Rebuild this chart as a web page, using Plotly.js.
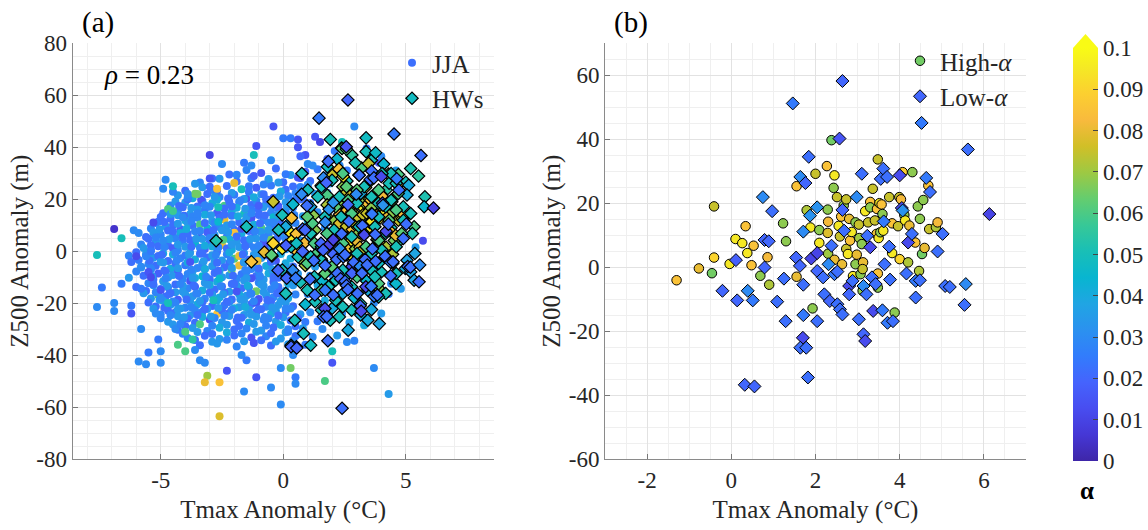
<!DOCTYPE html>
<html><head><meta charset="utf-8">
<script src="https://cdn.plot.ly/plotly-3.0.1.min.js"></script>
<style>html,body{margin:0;padding:0;background:#fff}#chart{width:1148px;height:530px}</style>
</head><body><div id="chart"></div>
<script>
// ---------------- DATA ----------------
// Panel (a): JJA days, core of the cloud (rows)
const coreX = [
 -2.2,-1.5,-0.9,-0.3,0.3,0.9,1.4,
 -3.4,-2.6,-1.9,-1.3,-0.6,0.0,0.6,1.1,
 -4.0,-3.3,-2.9,-2.3,-1.7,-1.1,-0.5,0.1,0.7,
 -4.3,-3.7,-3.1,-2.6,-2.0,-1.5,-0.9,-0.4,0.2,0.8,
 -4.6,-4.0,-3.5,-2.9,-2.4,-1.8,-1.3,-0.7,-0.2,0.4,
 -4.9,-4.3,-3.8,-3.2,-2.7,-2.1,-1.6,-1.0,-0.5,0.1,
 -5.1,-4.6,-4.0,-3.5,-2.9,-2.4,-1.8,-1.3,-0.8,-0.2,0.4,
 -5.4,-4.8,-4.2,-3.7,-3.1,-2.6,-2.0,-1.5,-0.9,-0.4,0.2,
 -5.6,-5.0,-4.5,-3.9,-3.4,-2.8,-2.3,-1.7,-1.2,-0.6,-0.1,0.5,
 -5.8,-5.2,-4.7,-4.1,-3.6,-3.0,-2.5,-1.9,-1.4,-0.8,-0.3,0.3,
 -6.0,-5.4,-4.9,-4.3,-3.8,-3.2,-2.7,-2.1,-1.6,-1.0,-0.5,0.1,
 -5.9,-5.3,-4.7,-4.2,-3.6,-3.1,-2.5,-2.0,-1.4,-0.9,-0.3,0.3,
 -5.8,-5.2,-4.6,-4.0,-3.5,-2.9,-2.4,-1.8,-1.3,-0.7,-0.2,0.4,
 -5.7,-5.1,-4.5,-3.9,-3.3,-2.8,-2.2,-1.7,-1.1,-0.6,0.0,0.6,
 -5.5,-4.9,-4.4,-3.8,-3.2,-2.7,-2.1,-1.6,-1.0,-0.4,0.2,
 -5.6,-5.0,-4.4,-3.9,-3.3,-2.8,-2.2,-1.7,-1.1,-0.5,0.1,
 -5.4,-4.8,-4.3,-3.7,-3.2,-2.6,-2.1,-1.5,-1.0,-0.4,0.2,
 -5.2,-4.6,-4.0,-3.5,-2.9,-2.4,-1.8,-1.3,-0.7,-0.2,0.4,
 -5.0,-4.4,-3.8,-3.3,-2.7,-2.2,-1.6,-1.1,-0.5,0.1,0.7,
 -4.7,-4.1,-3.6,-3.0,-2.5,-1.9,-1.4,-0.8,-0.3,0.3,0.9,
 -4.3,-3.7,-3.1,-2.6,-2.0,-1.5,-0.9,-0.4,0.2,0.8,
 -3.9,-3.2,-2.6,-2.0,-1.3,-0.7,-0.1,0.5,
 -3.4,-2.7,-1.9,-1.2,-0.5,0.2
];
const coreY = [
 29.5,31.2,30.1,31.8,29.3,30.6,31.5,
 26.4,27.9,26.8,28.1,27.2,26.5,28.3,27.0,
 23.2,24.6,23.5,25.1,23.8,24.4,25.3,23.6,24.7,
 21.5,20.4,22.0,20.8,21.7,20.2,21.9,20.6,21.2,20.5,
 17.6,18.7,17.2,18.4,17.5,18.9,17.8,18.2,17.3,18.6,
 14.6,15.5,14.2,15.8,14.8,15.2,14.4,15.9,14.9,15.3,
 11.3,12.5,11.8,12.9,11.5,12.2,11.1,12.7,11.9,12.4,11.4,
 8.7,9.6,8.4,9.9,8.8,9.3,8.2,9.7,8.9,9.4,8.5,
 5.4,6.3,5.8,6.7,5.2,6.1,5.6,6.8,5.3,6.4,5.9,6.2,
 2.6,3.5,2.2,3.8,2.9,3.2,2.4,3.6,2.8,3.3,2.5,3.7,
 -0.4,0.6,-0.9,0.3,-0.6,0.8,-0.2,0.5,-0.8,0.2,-0.5,0.7,
 -3.4,-2.5,-3.8,-2.7,-3.2,-2.4,-3.6,-2.9,-3.3,-2.6,-3.7,-2.8,
 -6.3,-5.6,-6.8,-5.4,-6.5,-5.8,-6.2,-5.5,-6.9,-5.7,-6.4,-5.9,
 -9.5,-8.6,-9.2,-8.8,-9.7,-8.4,-9.3,-8.9,-9.6,-8.5,-9.1,-8.7,
 -12.4,-11.6,-12.8,-11.5,-12.2,-11.8,-12.6,-11.3,-12.1,-11.9,-12.5,
 -15.3,-14.6,-15.8,-14.4,-15.1,-14.8,-15.6,-14.3,-15.4,-14.7,-15.2,
 -18.2,-17.5,-18.7,-17.4,-18.3,-17.8,-18.6,-17.2,-18.4,-17.7,-18.1,
 -21.3,-20.6,-21.8,-20.4,-21.1,-20.8,-21.6,-20.3,-21.4,-20.7,-21.2,
 -24.4,-23.5,-24.7,-23.3,-24.2,-23.8,-24.6,-23.4,-24.1,-23.6,-24.3,
 -27.2,-26.5,-27.6,-26.3,-27.4,-26.8,-27.5,-26.4,-27.1,-26.7,-27.3,
 -30.3,-29.6,-30.7,-29.5,-30.2,-29.8,-30.5,-29.4,-30.1,-29.7,
 -33.4,-32.6,-33.8,-32.5,-33.2,-32.8,-33.6,-32.7,
 -36.2,-35.5,-36.7,-35.4,-36.3,-35.8
];
const coreA = [
 .022,.028,.015,.022,.034,.018,.025,
 .028,.034,.022,.025,.04,.022,.015,.022,
 .022,.034,.028,.022,.05,.018,.025,.022,.028,
 .034,.04,.022,.028,.025,.015,.034,.022,.028,.022,
 .028,.034,.022,.04,.06,.025,.022,.028,.015,.034,
 .022,.028,.034,.025,.018,.04,.05,.022,.028,.025,
 .025,.022,.04,.028,.034,.08,.022,.015,.028,.034,.022,
 .028,.034,.018,.022,.045,.028,.022,.034,.06,.025,.022,
 .022,.028,.04,.022,.015,.034,.025,.04,.022,.028,.034,.022,
 .028,.034,.022,.025,.045,.022,.08,.034,.028,.015,.022,.04,
 .022,.025,.04,.028,.034,.018,.022,.04,.034,.028,.022,.034,
 .025,.034,.022,.028,.04,.022,.034,.06,.022,.034,.015,.04,
 .034,.022,.04,.025,.028,.034,.022,.08,.028,.04,.034,.022,
 .022,.018,.034,.028,.045,.022,.034,.025,.022,.04,.028,.034,
 .028,.034,.022,.015,.034,.04,.022,.034,.028,.022,.04,
 .022,.025,.034,.028,.04,.022,.034,.022,.065,.028,.034,
 .034,.022,.018,.034,.028,.04,.022,.034,.015,.028,.04,
 .022,.034,.028,.04,.022,.025,.034,.022,.028,.034,.022,
 .028,.022,.034,.025,.085,.022,.034,.018,.04,.022,.034,
 .034,.028,.022,.015,.034,.022,.04,.028,.034,.022,.025,
 .022,.034,.028,.04,.022,.028,.034,.022,.028,.034,
 .028,.022,.034,.022,.015,.028,.034,.022,
 .022,.034,.028,.015,.022,.034
];
// Panel (a): JJA days, in-between rows
const fillX = [
 -2.9,-1.9,-1.2,-0.6,0.1,0.7,
 -3.6,-3.0,-2.0,-1.4,-0.8,-0.2,0.4,1.0,
 -4.5,-3.6,-2.7,-2.1,-1.4,-0.8,-0.1,0.5,
 -4.4,-3.9,-3.3,-2.7,-2.2,-1.6,-1.1,-0.5,0.1,0.7,
 -4.7,-4.1,-3.5,-3.0,-2.4,-1.9,-1.3,-0.8,-0.2,0.4,
 -5.0,-4.3,-3.7,-3.2,-2.6,-2.1,-1.5,-1.0,-0.4,0.2,0.8,
 -5.2,-4.5,-3.9,-3.4,-2.8,-2.3,-1.7,-1.2,-0.6,-0.1,0.5,
 -5.3,-4.7,-4.2,-3.6,-3.1,-2.5,-2.0,-1.4,-0.9,-0.3,0.3,
 -5.5,-4.9,-4.4,-3.8,-3.3,-2.7,-2.2,-1.6,-1.1,-0.5,0.1,0.7,
 -5.7,-5.1,-4.5,-4.0,-3.4,-2.9,-2.3,-1.8,-1.2,-0.7,-0.1,0.5,
 -6.3,-5.6,-5.1,-4.5,-4.0,-3.4,-2.9,-2.3,-1.8,-1.2,-0.7,-0.1,0.5,
 -6.2,-5.5,-5.0,-4.4,-3.9,-3.3,-2.8,-2.2,-1.6,-1.1,-0.5,0.1,
 -6.0,-5.4,-4.8,-4.3,-3.7,-3.2,-2.6,-2.1,-1.5,-1.0,-0.4,0.2,
 -6.3,-5.3,-4.7,-4.1,-3.6,-3.0,-2.5,-1.9,-1.3,-0.8,-0.2,0.4,
 -6.0,-5.3,-4.7,-4.1,-3.6,-3.0,-2.5,-1.9,-1.4,-0.8,-0.2,0.4,
 -5.7,-5.1,-4.6,-4.0,-3.5,-2.9,-2.4,-1.8,-1.3,-0.7,-0.1,0.5,
 -5.5,-4.9,-4.4,-3.8,-3.3,-2.7,-2.2,-1.6,-1.1,-0.5,0.1,
 -5.3,-4.7,-4.2,-3.6,-3.1,-2.5,-2.0,-1.4,-0.9,-0.3,0.3,
 -5.0,-4.3,-3.9,-3.3,-2.8,-2.2,-1.7,-1.1,-0.6,0.0,0.6,
 -4.5,-4.0,-3.4,-2.9,-2.3,-1.8,-1.2,-0.7,-0.1,0.5,
 -4.1,-3.5,-2.9,-2.3,-1.7,-1.1,-0.5,0.1,0.7,
 -3.6,-2.9,-2.3,-1.6,-0.9,-0.3,0.4
];
const fillY = [
 28.0,29.4,28.9,27.8,29.6,28.2,
 25.9,24.8,26.2,25.0,25.7,26.4,24.9,25.6,
 22.9,22.1,23.2,22.4,22.8,21.9,23.0,22.3,
 19.1,20.0,19.3,19.8,18.9,20.1,19.4,19.7,18.8,19.9,
 16.2,16.9,16.0,17.1,16.4,16.7,15.9,17.0,16.3,16.8,
 13.1,13.8,13.3,14.0,12.9,13.6,13.2,13.9,13.0,13.7,13.4,
 10.8,10.1,10.9,10.3,10.7,9.9,10.6,10.2,11.0,10.4,10.8,
 7.2,7.9,7.0,7.7,7.3,8.0,7.1,7.8,7.4,7.6,7.2,
 4.8,4.1,4.9,4.3,4.7,4.0,4.6,4.2,4.9,4.4,4.7,4.1,
 1.2,1.9,1.1,1.7,1.3,1.8,1.0,1.6,1.4,1.9,1.2,1.7,
 -1.8,-1.1,-1.9,-1.3,-1.7,-1.0,-1.6,-1.2,-1.9,-1.4,-1.7,-1.1,-1.5,
 -4.2,-4.9,-4.1,-4.7,-4.3,-4.8,-4.0,-4.6,-4.4,-4.9,-4.2,-4.7,
 -7.8,-7.1,-7.9,-7.3,-7.7,-7.0,-7.6,-7.2,-7.9,-7.4,-7.8,-7.1,
 -10.2,-10.9,-10.1,-10.7,-10.3,-10.8,-10.0,-10.6,-10.4,-10.9,-10.2,-10.7,
 -13.8,-13.1,-13.9,-13.3,-13.7,-13.0,-13.6,-13.2,-13.9,-13.4,-13.8,-13.1,
 -16.2,-16.9,-16.1,-16.7,-16.3,-16.8,-16.0,-16.6,-16.4,-16.9,-16.2,-16.7,
 -19.8,-19.1,-19.9,-19.3,-19.7,-19.0,-19.6,-19.2,-19.9,-19.4,-19.8,
 -22.2,-22.9,-22.1,-22.7,-22.3,-22.8,-22.0,-22.6,-22.4,-22.9,-22.2,
 -25.8,-25.1,-25.9,-25.3,-25.7,-25.0,-25.6,-25.2,-25.9,-25.4,-25.8,
 -28.2,-28.9,-28.1,-28.7,-28.3,-28.8,-28.0,-28.6,-28.4,-28.9,
 -31.8,-31.1,-31.9,-31.3,-31.7,-31.0,-31.6,-31.2,-31.9,
 -34.2,-34.9,-34.1,-34.7,-34.3,-34.8,-34.4
];
const fillA = [
 .022,.028,.018,.034,.025,.015,
 .034,.022,.08,.025,.028,.034,.022,.028,
 .028,.065,.022,.034,.025,.022,.04,.028,
 .034,.022,.025,.04,.022,.034,.028,.015,.034,.022,
 .06,.022,.034,.028,.022,.04,.025,.034,.018,.028,
 .022,.034,.028,.04,.022,.025,.034,.022,.045,.028,.034,
 .025,.022,.034,.06,.028,.034,.022,.04,.028,.022,.028,
 .034,.022,.04,.028,.018,.034,.085,.022,.034,.028,.04,
 .022,.034,.028,.022,.034,.025,.04,.022,.034,.065,.028,.034,
 .034,.022,.018,.034,.028,.04,.022,.034,.028,.015,.04,.022,
 .028,.034,.022,.04,.025,.022,.034,.028,.08,.034,.022,.04,.034,
 .022,.028,.034,.022,.04,.028,.034,.022,.015,.034,.028,.04,
 .028,.034,.022,.018,.034,.022,.04,.065,.028,.034,.022,.034,
 .034,.022,.034,.028,.04,.022,.034,.028,.015,.034,.022,.04,
 .022,.034,.028,.034,.018,.04,.022,.034,.028,.034,.022,.034,
 .034,.06,.022,.034,.028,.034,.022,.04,.028,.034,.022,.028,
 .022,.034,.028,.034,.022,.04,.028,.034,.015,.022,.034,
 .034,.022,.034,.028,.034,.022,.04,.034,.022,.034,.028,
 .028,.034,.022,.04,.028,.034,.022,.034,.028,.034,.022,
 .034,.022,.06,.028,.034,.022,.034,.028,.04,.022,
 .028,.034,.022,.04,.028,.034,.022,.034,.028,
 .022,.034,.028,.034,.022,.034,.028
];
// Panel (a): JJA days, densest part of the cloud
const denseX = [
 -3.9,-3.35,-2.8,-2.25,-1.75,-1.2,-0.7,-0.15,0.45,
 -4.25,-3.75,-3.2,-2.65,-2.1,-1.55,-1.0,-0.45,0.15,
 -4.6,-4.05,-3.5,-2.95,-2.4,-1.85,-1.3,-0.75,-0.2,0.45,
 -4.85,-4.3,-3.75,-3.2,-2.65,-2.1,-1.55,-0.95,-0.4,0.2,
 -5.05,-4.5,-3.95,-3.4,-2.85,-2.25,-1.7,-1.15,-0.6,0.0,
 -5.2,-4.65,-4.1,-3.55,-3.0,-2.45,-1.9,-1.35,-0.8,-0.25,
 -5.4,-4.85,-4.3,-3.75,-3.2,-2.65,-2.1,-1.55,-1.0,-0.45,
 -5.5,-4.95,-4.4,-3.85,-3.3,-2.75,-2.2,-1.65,-1.1,-0.55,
 -5.45,-4.9,-4.35,-3.8,-3.25,-2.7,-2.15,-1.6,-1.05,-0.5,
 -5.4,-4.85,-4.3,-3.75,-3.2,-2.65,-2.1,-1.55,-1.0,-0.45,
 -5.35,-4.8,-4.25,-3.7,-3.15,-2.6,-2.05,-1.5,-0.95,-0.4,
 -5.3,-4.75,-4.2,-3.65,-3.1,-2.55,-2.0,-1.45,-0.9,-0.35,
 -5.2,-4.65,-4.1,-3.55,-3.0,-2.45,-1.9,-1.35,-0.8,-0.25,
 -5.05,-4.5,-3.95,-3.4,-2.85,-2.3,-1.75,-1.2,-0.65,-0.1,
 -4.85,-4.3,-3.75,-3.2,-2.65,-2.1,-1.55,-1.0,-0.45,0.1,
 -4.6,-4.05,-3.5,-2.95,-2.4,-1.85,-1.3,-0.75,-0.2
];
const denseY = [
 20.6,19.8,20.9,20.3,19.5,20.7,20.0,21.1,19.6,
 17.4,16.6,17.7,16.9,17.2,16.3,17.5,16.8,17.1,
 14.3,13.6,14.5,13.8,14.1,13.4,14.6,13.7,14.2,13.9,
 11.2,10.5,11.6,10.8,11.3,10.4,11.5,10.7,11.1,10.6,
 8.3,7.6,8.5,7.8,8.1,7.4,8.6,7.7,8.2,7.9,
 5.3,4.6,5.5,4.8,5.1,4.4,5.6,4.7,5.2,4.9,
 2.3,1.5,2.5,1.7,2.1,1.4,2.6,1.8,2.2,1.6,
 -0.7,-1.4,-0.6,-1.2,-0.9,-1.5,-0.5,-1.3,-0.8,-1.1,
 -3.7,-4.4,-3.6,-4.2,-3.9,-4.5,-3.5,-4.3,-3.8,-4.1,
 -6.7,-7.4,-6.6,-7.2,-6.9,-7.5,-6.5,-7.3,-6.8,-7.1,
 -9.8,-10.5,-9.6,-10.3,-9.9,-10.6,-9.5,-10.4,-9.7,-10.2,
 -12.7,-13.4,-12.6,-13.2,-12.9,-13.5,-12.5,-13.3,-12.8,-13.1,
 -15.8,-16.5,-15.6,-16.3,-15.9,-16.6,-15.5,-16.4,-15.7,-16.2,
 -18.7,-19.4,-18.6,-19.2,-18.9,-19.5,-18.5,-19.3,-18.8,-19.1,
 -21.8,-22.5,-21.6,-22.3,-21.9,-22.6,-21.5,-22.4,-21.7,-22.2,
 -24.7,-25.4,-24.6,-25.2,-24.9,-25.5,-24.5,-25.3,-24.8
];
const denseA = [
 .028,.015,.034,.022,.028,.04,.022,.034,.025,
 .022,.034,.028,.05,.022,.034,.018,.028,.034,
 .034,.022,.028,.034,.022,.04,.028,.022,.034,.028,
 .022,.034,.028,.022,.045,.028,.034,.022,.028,.04,
 .034,.022,.04,.028,.022,.034,.015,.028,.034,.022,
 .028,.034,.022,.034,.028,.06,.022,.034,.028,.022,
 .022,.028,.034,.022,.04,.028,.034,.022,.028,.034,
 .034,.022,.028,.034,.022,.028,.04,.022,.034,.028,
 .022,.034,.028,.015,.034,.022,.028,.034,.08,.022,
 .028,.022,.034,.028,.04,.022,.034,.028,.022,.034,
 .034,.028,.022,.034,.028,.045,.022,.034,.028,.022,
 .022,.034,.028,.022,.034,.028,.022,.04,.034,.028,
 .028,.022,.034,.028,.022,.034,.015,.028,.034,.022,
 .034,.028,.022,.034,.05,.022,.034,.028,.022,.034,
 .022,.034,.028,.022,.034,.028,.04,.022,.034,.028,
 .028,.034,.022,.034,.028,.022,.034,.028,.022
];
// Panel (a): JJA days, outlying points
const outX = [-7.6,-7.4,-7.6,-6.9,-6.9,-6.9,-6.6,-6.6,-6.2,-6.2,
 -6.1,-6.0,-5.9,-5.8,-5.8,-5.8,-5.9,-5.6,-5.5,-5.6,
 -5.5,-5.4,-5.4,-5.3,-5.2,-5.1,-5.0,-5.0,-5.0,-5.0,
 -4.9,-4.9,-4.8,-4.7,-4.5,-4.5,-4.4,-4.3,-4.2,-4.1,
 -4.0,-4.0,-3.9,-3.7,-3.6,-3.5,-3.4,-3.2,-3.1,-3.2,
 -2.6,-2.6,-2.3,-3.0,-3.0,-2.5,-2.7,-1.7,-1.5,-1.6,
 -1.1,-0.5,-0.1,-0.1,0.5,0.5,0.3,0.4,0.2,1.7,
 2.0,2.0,3.7,4.3,2.9,4.3,5.7,2.9,-0.4,0.0,
 0.3,0.6,0.6,1.3,1.5,-1.1,-1.2,-1.3,-1.6,-0.5,
 0.9,1.2,3.6,3.9,2.4];
const outY = [-1.5,-14,-21.5,-20,-23,8.5,5,-12.5,-21,-24,
 8,-2,7,-6,-14.5,-30,-42.5,-43.5,-39,-2,
 -8,-10,0,11,-24,-34,-38.5,-43,-15,-18,
 4,24,27.5,-20,25,15.5,-30,-36,-28,13,
 -38.5,-31,22,-34,-38,22,-42,-43,-48,-50.5,
 -50.5,-63.5,-46,28,37,33.5,24,-40,-42,-54,
 -48.5,-52.5,-45,-59,-48.5,-51,-45,-40,-31,-50,
 -43,-38.5,-45,-55,-34.5,-16.5,4,48,48,43.5,
 43.5,40,43,44,42,40.5,37,33,34,35,
 37,33,37,34,42];
const outA = [.05,.025,.03,.03,.03,.005,.05,.025,.025,.015,
 .03,.012,.03,.03,.025,.03,.03,.03,.025,.028,
 .015,.012,.025,.012,.03,.025,.03,.03,.015,.03,
 .03,.03,.03,.05,.05,.058,.03,.06,.028,.03,
 .06,.06,.03,.055,.03,.065,.03,.03,.07,.08,
 .085,.078,.015,.015,.01,.03,.085,.03,.025,.03,
 .015,.03,.03,.03,.025,.03,.065,.03,.028,.06,
 .015,.05,.03,.035,.028,.025,.012,.03,.015,.025,
 .025,.015,.015,.015,.01,.015,.05,.03,.025,.03,
 .015,.03,.03,.015,.05];
// Panel (a): JJA days lying among the heatwave days
const midX = [1.0,1.3,1.1,1.4,1.0,1.3,1.1,1.4,1.0,1.3,1.1,1.4,1.0,1.3,1.1,1.4,
 1.7,1.9,1.8,2.0,1.7,1.9,1.8,2.0,1.7,1.9,1.8,
 2.3,2.6,2.4,2.7,3.1,3.3,3.7,4.0,4.4,4.8,5.1,5.4,3.0,3.4,4.0,4.6,1.8,2.1,1.0,0.7,1.6,2.2,2.6,1.2,0.9];
const midY = [25.5,22,18.5,15,11.5,8,4.5,1,-2.5,-6,-9.5,-13,-16.5,-20,-23.5,-27,
 29,26,22.5,19,9,5.5,-5,-9,-19,-23,-26.5,
 33,31,-24,-27.5,-24.5,-28.5,-20,-24,-12.5,-14.5,-3,1.5,33,39.5,36.5,31,35.5,38.5,33.5,36.5,-30,-32.5,-35,-33,-36];
const midA = [.03,.035,.025,.03,.04,.03,.035,.03,.025,.035,.03,.04,.03,.035,.03,.025,
 .03,.035,.03,.04,.03,.025,.035,.03,.04,.03,.035,
 .03,.025,.03,.035,.03,.04,.03,.035,.03,.035,.03,.035,.03,.025,.03,.035,.02,.025,.03,.02,.03,.035,.03,.03,.025];

// Panel (a): heatwave days that are neither high- nor low-alpha (first group)
const hwMidX = [0.76,1.92,2.40,2.58,2.94,3.38,3.38,3.77,5.20,5.52,
 5.78,5.75,5.12,5.05,4.90,5.20,5.34,5.27,5.37,5.05,
 4.98,5.20,5.34,4.61,4.47,4.18,4.32,4.61,4.40,4.69,
 4.32,3.89,3.89,3.60,3.74,3.89,3.60,3.89,3.60,3.89,
 3.45,3.16,3.16,3.45,3.92,2.79,2.65,2.43,2.14,1.56,
 1.70,1.56,1.27,1.12,1.19,0.98,1.12,1.41,1.56,1.99,
 2.43,2.58,2.29,2.65,2.14,2.36,2.79,3.01,3.16,3.30,
 3.09,3.30,2.79,2.43,2.21,1.99,2.43,2.87,3.01,2.79,
 2.43,1.85,1.27,0.98,0.61,0.32,0.54,0.10,-0.04,-0.04,
 0.17,0.10,0.47,1.12,0.32,0.54,0.98,-0.48,-0.19,-1.50,
 -2.74,0.83,4.40,4.61,4.03,3.09,3.01,3.60,4.18,3.89,
 4.03,4.18,4.61,4.83,4.90,3.74,4.18,3.89,3.01,3.38,
 3.23,2.07,1.70,1.78,1.56,1.12,2.14,1.56,1.92,2.29,
 2.40];
const hwMidY = [29.9,43.0,39.5,39.2,34.0,43.6,38.3,37.9,31.8,28.9,
 20.9,17.1,25.4,21.6,17.1,14.5,9.4,6.8,-0.9,-3.5,
 -6.7,-8.0,-11.2,-8.6,-4.7,6.8,11.9,15.8,19.6,22.2,
 26.1,23.5,18.4,14.5,9.4,4.2,-0.9,-4.7,-7.3,-12.5,
 -15.0,-20.2,-24.6,-26.6,-27.9,-22.7,-30.4,-21.4,-18.9,-15.0,
 -8.6,-3.5,3.0,6.8,10.7,13.2,17.1,20.9,24.8,27.3,
 29.9,24.8,20.9,19.6,17.1,13.2,14.5,18.4,22.2,24.8,
 9.4,6.8,5.5,3.0,-0.9,-6.0,-7.3,-4.7,-9.9,-13.7,
 -16.3,-13.7,-9.9,-4.7,-2.2,1.7,3.0,9.4,13.9,-7.3,
 -9.9,-16.3,-26.6,-36.2,-36.2,-36.8,-15.0,-1.5,8.1,9.4,
 4.0,-31.7,29.9,26.1,29.9,29.3,23.5,20.9,17.1,13.2,
 0.4,-2.2,1.7,6.8,11.9,-9.9,-16.3,-17.6,-0.9,1.7,
 -6.0,8.1,13.2,6.8,1.7,-2.2,-11.2,-22.7,-26.6,-25.3,
 -60.5];
const hwMidA = [.05,.05,.062,.06,.05,.048,.05,.047,.052,.055,
 .052,.045,.04,.04,.05,.05,.06,.052,.038,.038,
 .04,.038,.038,.05,.048,.05,.062,.06,.05,.06,
 .05,.06,.05,.062,.05,.06,.05,.048,.05,.06,
 .04,.05,.04,.04,.038,.05,.04,.05,.05,.06,
 .062,.05,.06,.05,.06,.062,.04,.05,.05,.05,
 .06,.062,.05,.06,.062,.05,.06,.05,.04,.05,
 .05,.06,.05,.06,.05,.062,.05,.05,.06,.05,
 .04,.05,.05,.06,.05,.05,.048,.04,.05,.05,
 .048,.05,.05,.048,.05,.045,.05,.062,.05,.05,
 .052,.05,.05,.05,.05,.048,.062,.05,.05,.05,
 .05,.06,.05,.062,.05,.05,.05,.05,.05,.06,
 .05,.05,.05,.06,.05,.05,.05,.05,.05,.05,
 .022];
// Panel (a): heatwave days that are neither high- nor low-alpha (second group)
const hwMid2X = [1.8,2.2,2.8,3.2,3.6,4.1,4.7,5.0,4.2,3.5,
 2.6,1.8,2.4,2.9,3.5,4.4,4.7,4.3,3.3,2.6,
 1.9,1.3,1.6,2.5,3.4,4.0,4.6,2.0,2.9,3.6,
 1.3,0.7,0.9,1.0,0.4];
const hwMid2Y = [32.5,35.5,37.0,32.0,35.0,33.5,29.5,26.5,23.5,26.5,
 27.0,21.5,16.5,11.5,12.0,9.0,3.5,-1.0,-2.5,-1.5,
 2.5,-1.5,-11.5,-10.0,-11.5,-8.0,-12.5,-22.0,-18.0,-22.5,
 -19.5,-12.0,-20.5,23.5,18.0];
const hwMid2A = [.048,.045,.055,.06,.05,.045,.06,.05,.055,.06,
 .05,.06,.055,.05,.06,.05,.055,.05,.045,.055,
 .05,.06,.045,.05,.045,.05,.045,.04,.045,.04,
 .05,.05,.045,.05,.045];

// Panel (b): high-alpha heatwave days
const highX = [-0.46,-0.77,-1.30,-0.41,-0.41,-0.04,0.10,0.26,0.34,0.38,
 0.48,0.53,0.69,0.86,0.90,1.30,1.23,1.55,1.55,1.79,
 1.88,1.93,2.00,2.09,2.09,2.27,2.29,2.29,2.30,2.30,
 2.38,2.43,2.45,2.45,2.51,2.58,2.55,2.61,2.63,2.67,
 2.73,2.73,2.77,2.80,2.82,2.86,2.89,2.95,2.95,2.98,
 3.03,3.04,3.07,3.10,3.12,3.13,3.12,3.18,3.25,3.30,
 3.30,3.36,3.41,3.45,3.46,3.48,3.48,3.48,3.50,3.52,
 3.54,3.57,3.59,3.61,3.75,3.82,3.82,3.88,3.96,3.99,
 4.00,4.03,4.07,4.11,4.13,4.20,4.23,4.30,4.37,4.43,
 4.46,4.48,4.53,4.56,4.59,4.68,4.70,4.86,4.90];
const highY = [-1.9,-0.4,-4.1,19.0,3.0,1.0,8.8,7.5,12.8,4.4,
 0.6,6.7,-2.7,3.1,-5.5,8.1,13.7,25.3,-3.0,17.8,
 12.4,-12.9,29.2,11.6,7.6,31.6,18.0,10.7,14.2,4.2,
 39.7,24.8,28.7,2.3,21.9,9.6,12.9,15.8,0.9,19.3,
 21.2,5.7,4.1,15.1,8.3,11.0,-2.8,14.0,0.9,3.9,
 13.3,9.1,-2.2,7.2,-7.4,1.5,-0.6,17.5,14.0,20.4,
 18.7,24.5,14.6,10.4,18.2,33.7,-2.0,-6.4,9.1,20.0,
 10.9,19.6,16.6,11.4,21.9,13.7,4.4,-14.2,12.8,21.9,
 2.5,21.2,29.7,16.3,14.6,1.5,13.0,29.7,7.7,19.0,
 -1.2,15.1,4.1,21.0,6.0,25.5,11.9,12.5,14.0];
const highA = [.065,.08,.085,.075,.09,.095,.095,.095,.085,.095,
 .085,.085,.068,.082,.072,.068,.068,.085,.08,.072,
 .095,.068,.075,.068,.095,.085,.068,.078,.082,.07,
 .065,.068,.095,.08,.075,.075,.095,.085,.08,.068,
 .075,.075,.095,.08,.085,.095,.095,.068,.068,.08,
 .075,.07,.068,.068,.068,.08,.075,.095,.075,.085,
 .068,.075,.075,.08,.085,.075,.085,.068,.095,.095,
 .068,.085,.068,.095,.075,.085,.095,.068,.075,.075,
 .09,.082,.088,.068,.095,.072,.08,.068,.085,.068,
 .072,.068,.065,.068,.08,.085,.075,.072,.082];
// Panel (b): low-alpha heatwave days
const lowX = [2.64,1.46,4.52,5.62,6.13,2.57,1.84,1.64,1.76,0.75,
 0.97,0.79,0.89,0.11,-0.21,0.14,0.39,0.51,0.79,1.09,
 1.25,1.29,1.54,1.63,1.71,1.71,1.71,1.70,1.64,1.78,
 1.82,0.32,0.55,1.87,2.04,1.90,2.04,2.04,2.04,2.18,
 2.21,2.31,2.34,2.38,2.45,2.52,2.52,2.58,2.64,2.64,
 2.68,2.80,2.80,2.88,2.98,3.03,3.10,3.14,3.18,3.14,
 3.21,3.23,3.30,3.34,3.37,3.43,3.55,3.61,3.59,3.62,
 3.64,3.70,3.71,3.75,3.77,3.84,4.05,4.07,4.20,4.29,
 4.16,4.38,4.38,4.48,4.63,4.72,4.90,5.02,5.08,5.19,
 5.57,5.54,4.00];
const lowY = [58.2,51.2,45.1,36.8,16.6,40.2,34.5,28.2,26.3,21.9,
 17.5,8.5,8.1,2.2,-7.4,-10.4,-7.4,-10.4,-0.1,-10.8,
 -3.6,-16.9,3.0,0.4,-5.5,-15.0,11.1,-22.1,-25.2,-25.2,
 -34.5,-36.8,-37.3,16.1,18.7,2.7,4.4,-1.2,-16.9,-3.2,
 -8.5,0.9,-10.6,6.7,-2.2,-1.4,-11.6,-13.2,-14.8,17.9,
 11.4,-5.9,-8.5,-4.3,21.9,-16.3,29.2,-21.0,-23.1,-5.9,
 -8.5,9.8,6.2,-3.2,-13.7,-5.3,27.6,30.8,-13.5,14.3,
 0.9,28.2,-17.4,6.4,-3.9,-16.9,18.5,17.7,7.7,10.4,
 -2.0,-4.3,-9.5,-4.1,27.9,23.5,4.9,10.4,-5.9,-6.2,
 -5.3,-11.8,28.7];
const lowA = [.02,.025,.025,.022,.01,.015,.022,.03,.02,.03,
 .022,.02,.02,.018,.02,.02,.03,.025,.02,.022,
 .022,.022,.02,.02,.022,.025,.03,.012,.022,.022,
 .022,.02,.02,.032,.032,.01,.01,.02,.022,.022,
 .022,.03,.02,.022,.025,.022,.022,.022,.022,.02,
 .022,.012,.02,.022,.03,.022,.022,.02,.012,.03,
 .022,.022,.012,.022,.012,.022,.022,.022,.025,.025,
 .022,.022,.025,.022,.022,.022,.012,.032,.012,.022,
 .022,.025,.022,.022,.025,.022,.022,.022,.022,.022,
 .03,.022,.012];

// Tick values
const xTicksA = [-5, 0, 5];
const yTicksA = [-80, -60, -40, -20, 0, 20, 40, 60, 80];
const xTicksB = [-2, 0, 2, 4, 6];
const yTicksB = [-60, -40, -20, 0, 20, 40, 60];
const cbTicks = [0, 0.01, 0.02, 0.03, 0.04, 0.05, 0.06, 0.07, 0.08, 0.09, 0.1];
const cbTickText = ['0','0.01','0.02','0.03','0.04','0.05','0.06','0.07','0.08','0.09','0.1'];
const rhoText = '<i>ρ</i> = 0.23';

// ---------------- STYLE ----------------
const parula = [
 [0.000,'rgb(62,38,168)'],[0.063,'rgb(69,55,213)'],[0.127,'rgb(72,77,240)'],
 [0.190,'rgb(69,99,253)'],[0.254,'rgb(50,124,252)'],[0.317,'rgb(43,145,239)'],
 [0.381,'rgb(32,165,227)'],[0.444,'rgb(8,181,208)'],[0.508,'rgb(25,191,182)'],
 [0.571,'rgb(55,200,151)'],[0.635,'rgb(100,205,111)'],[0.698,'rgb(157,201,67)'],
 [0.762,'rgb(209,191,39)'],[0.825,'rgb(248,186,61)'],[0.889,'rgb(252,207,48)'],
 [0.952,'rgb(245,233,36)'],[1.000,'rgb(249,251,21)']
];
const W = 1148, H = 530;
const FX = v => v / W, FY = v => 1 - v / H;
const FONT = 'Liberation Serif, Times New Roman, Times, serif';
const TXT = '#262626';

const jjaX = coreX.concat(fillX, denseX, outX, midX);
const jjaY = coreY.concat(fillY, denseY, outY, midY);
const jjaA = coreA.concat(fillA, denseA, outA, midA);
// draw order of the heatwave diamonds in panel (a)
const hwX = hwMid2X.concat(highX, hwMidX, lowX);
const hwY = hwMid2Y.concat(highY, hwMidY, lowY);
const hwA = hwMid2A.concat(highA, hwMidA, lowA);

function mk(color, size, symbol, lw) {
  return {color: color, size: size, symbol: symbol, colorscale: parula, cmin: 0, cmax: 0.1,
          showscale: false, line: {color: '#000', width: lw}};
}

const traces = [
  {type:'scatter', mode:'markers', name:'JJA', x:jjaX, y:jjaY, xaxis:'x', yaxis:'y',
   marker: mk(jjaA, 8, 'circle', 0), legend:'legend', hoverinfo:'skip'},
  {type:'scatter', mode:'markers', name:'HWs', x:hwX, y:hwY, xaxis:'x', yaxis:'y',
   marker: mk(hwA, 9.5, 'diamond', 1.2), legend:'legend', hoverinfo:'skip'},
  {type:'scatter', mode:'markers', name:'High-<i>α</i>', x:highX, y:highY, xaxis:'x2', yaxis:'y2',
   marker: mk(highA, 9.5, 'circle', 1), legend:'legend2', hoverinfo:'skip'},
  {type:'scatter', mode:'markers', name:'Low-<i>α</i>', x:lowX, y:lowY, xaxis:'x2', yaxis:'y2',
   marker: Object.assign(mk(lowA, 10, 'diamond', 1), {showscale:true, colorbar:{
     x: FX(1073), xanchor:'left', xpad:0, y: FY(461), yanchor:'bottom', ypad:0,
     len: 413, lenmode:'pixels', thickness: 25, thicknessmode:'pixels', outlinewidth:0,
     tickmode:'array', tickvals: cbTicks, ticktext: cbTickText, ticks:'inside', ticklen:5,
     tickcolor:'#444', tickfont:{family:FONT, size:23, color:TXT}}}),
   legend:'legend2', hoverinfo:'skip'}
];

function axisCommon() {
  return {showline:true, linecolor:'#8a8a8a', linewidth:1, mirror:false, zeroline:false,
          showgrid:true, gridcolor:'#e2e2e2', gridwidth:1, ticks:'inside', ticklen:5,
          tickcolor:'#777', tickfont:{family:FONT, size:23, color:TXT}, tickmode:'array',
          fixedrange:true};
}
const xa = Object.assign(axisCommon(), {domain:[FX(72.5), FX(494)], range:[-8.6, 8.6], anchor:'y',
  tickvals:xTicksA, ticktext:xTicksA.map(String),
  minor:{tickmode:'linear', tick0:0, dtick:1, showgrid:true, gridcolor:'#efefef', ticks:''},
  title:{text:'Tmax Anomaly (°C)', font:{family:FONT, size:25, color:TXT}, standoff:8}});
const ya = Object.assign(axisCommon(), {domain:[FY(459), FY(43.3)], range:[-80, 80], anchor:'x',
  tickvals:yTicksA, ticktext:yTicksA.map(String),
  minor:{tickmode:'linear', tick0:0, dtick:5, showgrid:true, gridcolor:'#efefef', ticks:''},
  title:{text:'Z500 Anomaly (m)', font:{family:FONT, size:25, color:TXT}, standoff:0}});
const xb = Object.assign(axisCommon(), {domain:[FX(605), FX(1026)], range:[-3, 7], anchor:'y2',
  tickvals:xTicksB, ticktext:xTicksB.map(String),
  minor:{tickmode:'linear', tick0:0, dtick:0.5, showgrid:true, gridcolor:'#efefef', ticks:''},
  title:{text:'Tmax Anomaly (°C)', font:{family:FONT, size:25, color:TXT}, standoff:8}});
const yb = Object.assign(axisCommon(), {domain:[FY(459), FY(43.3)], range:[-60, 70], anchor:'x2',
  tickvals:yTicksB, ticktext:yTicksB.map(String),
  minor:{tickmode:'linear', tick0:0, dtick:5, showgrid:true, gridcolor:'#efefef', ticks:''},
  title:{text:'Z500 Anomaly (m)', font:{family:FONT, size:25, color:TXT}, standoff:0}});

const legendCommon = {bgcolor:'rgba(0,0,0,0)', borderwidth:0, xanchor:'left', yanchor:'top',
  font:{family:FONT, size:25, color:TXT}, itemclick:false, itemdoubleclick:false, tracegroupgap:0};

const layout = {
  width: W, height: H, margin:{l:0, r:0, t:0, b:0, autoexpand:false},
  paper_bgcolor:'#fff', plot_bgcolor:'#fff', font:{family:FONT, color:TXT},
  showlegend:true,
  xaxis: xa, yaxis: ya, xaxis2: xb, yaxis2: yb,
  legend: Object.assign({x:FX(392), y:FY(40)}, legendCommon),
  legend2: Object.assign({x:FX(900), y:FY(38)}, legendCommon),
  annotations: [
    {xref:'paper', yref:'paper', x:FX(80), y:FY(23), xanchor:'left', yanchor:'middle',
     text:'(a)', showarrow:false, font:{family:FONT, size:29, color:'#000'}},
    {xref:'paper', yref:'paper', x:FX(612), y:FY(23), xanchor:'left', yanchor:'middle',
     text:'(b)', showarrow:false, font:{family:FONT, size:29, color:'#000'}},
    {xref:'paper', yref:'paper', x:FX(102), y:FY(75), xanchor:'left', yanchor:'middle',
     text:rhoText, showarrow:false, font:{family:FONT, size:27, color:'#000'}},
    {xref:'paper', yref:'paper', x:FX(1087), y:FY(490), xanchor:'center', yanchor:'middle',
     text:'<b>α</b>', showarrow:false, font:{family:FONT, size:25, color:'#000'}}
  ],
  shapes: [
    {type:'path', xref:'paper', yref:'paper', layer:'above',
     path:'M ' + FX(1073) + ' ' + FY(48) + ' L ' + FX(1098) + ' ' + FY(48) + ' L ' + FX(1085.5) + ' ' + FY(34) + ' Z',
     fillcolor:'rgb(249,251,21)', line:{width:0}}
  ]
};

Plotly.newPlot('chart', traces, layout, {staticPlot:true, displayModeBar:false});
</script></body></html>
